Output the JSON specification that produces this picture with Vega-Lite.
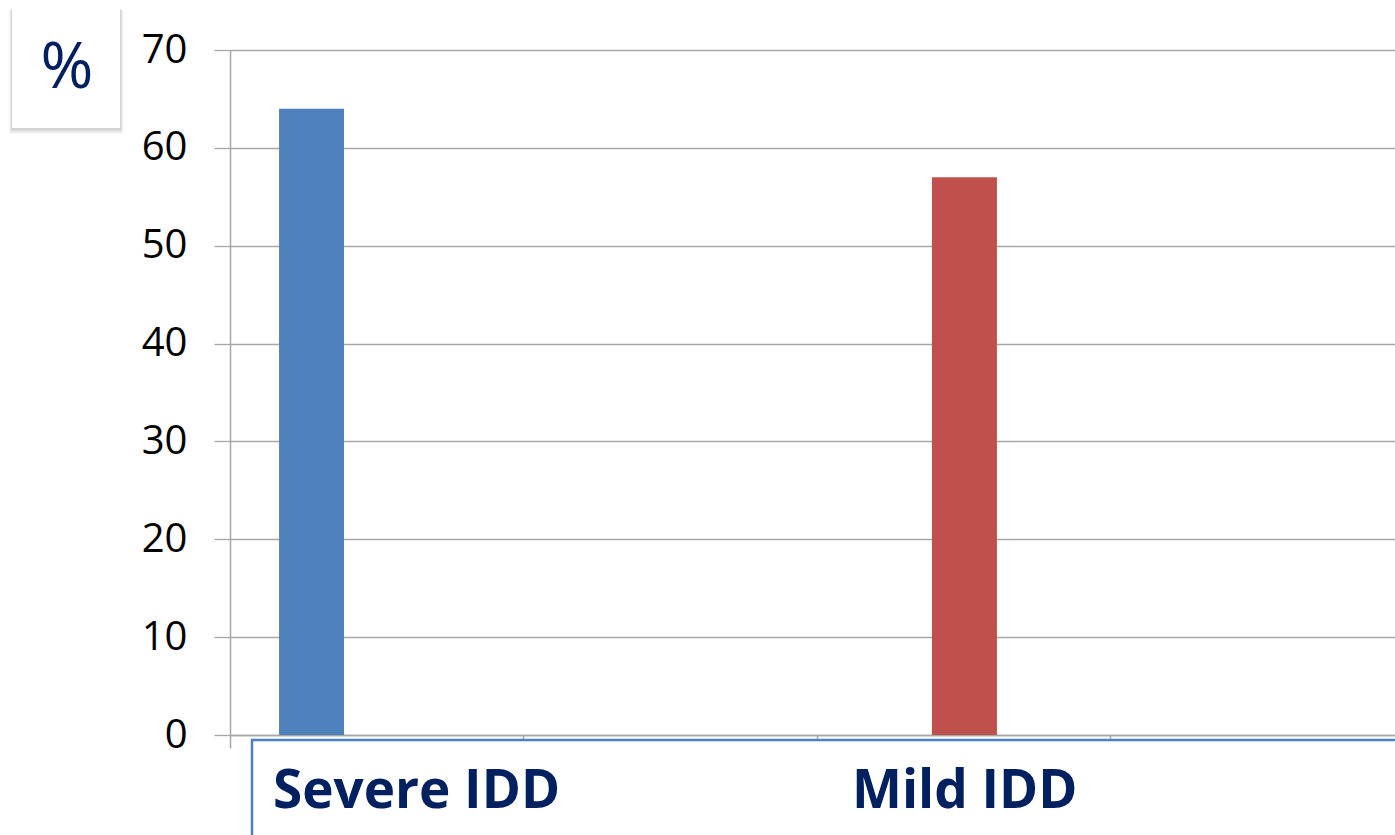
{
  "$schema": "https://vega.github.io/schema/vega-lite/v6.json",
  "width": 1165,
  "height": 685,
  "autosize": "none",
  "padding": {"left": 230, "top": 50, "right": 0, "bottom": 100},
  "background": "white",
  "config": {"view": {"stroke": null}},
  "datasets": {
    "bars": [
      {"group": "Severe IDD", "slot": 0.278, "percent": 64},
      {"group": "Mild IDD", "slot": 2.504, "percent": 57}
    ],
    "labels": [
      {"group": "Severe IDD", "slot": 0.1466},
      {"group": "Mild IDD", "slot": 2.1205}
    ],
    "unit": [{"symbol": "%"}]
  },
  "layer": [
    {
      "data": {"name": "bars"},
      "mark": {"type": "bar", "size": 65},
      "encoding": {
        "x": {
          "field": "slot", "type": "quantitative",
          "scale": {"domain": [0, 3.972], "nice": false, "zero": false, "padding": 0},
          "axis": {
            "values": [0, 1, 2, 3], "labels": false, "title": null, "grid": false,
            "domainColor": "#a6a6a6", "domainWidth": 1.5,
            "tickColor": "#a6a6a6", "tickWidth": 1.5, "tickSize": 13
          }
        },
        "y": {
          "field": "percent", "type": "quantitative",
          "scale": {"domain": [0, 70], "nice": false, "padding": 0},
          "axis": {
            "values": [0, 10, 20, 30, 40, 50, 60, 70], "title": null,
            "grid": true, "gridColor": "#a6a6a6", "gridWidth": 1.3,
            "domainColor": "#a6a6a6", "domainWidth": 1.5,
            "tickColor": "#a6a6a6", "tickWidth": 1.3, "tickSize": 16,
            "labelFont": "Open Sans", "labelFontSize": 40, "labelColor": "#000000",
            "labelPadding": 27
          }
        },
        "color": {
          "field": "group", "type": "nominal",
          "scale": {"domain": ["Severe IDD", "Mild IDD"], "range": ["#4f81bd", "#c0504d"]},
          "legend": null
        }
      }
    },
    {
      "data": {"name": "unit"},
      "mark": {"type": "rect", "fill": "#ffffff", "stroke": "#4f81bd", "strokeWidth": 2.5},
      "encoding": {
        "x": {"datum": 0.075, "type": "quantitative"},
        "x2": {"datum": 4.2},
        "y": {"datum": -0.5, "type": "quantitative"},
        "y2": {"datum": -12}
      }
    },
    {
      "data": {"name": "labels"},
      "mark": {"type": "text", "align": "left", "baseline": "alphabetic", "font": "Open Sans", "fontWeight": "bold", "fontSize": 53, "color": "#002060"},
      "encoding": {
        "x": {"field": "slot", "type": "quantitative"},
        "y": {"datum": -7.46, "type": "quantitative"},
        "text": {"field": "group"}
      }
    },
    {
      "data": {"name": "unit"},
      "mark": {"type": "rect", "fill": "#808080", "opacity": 0.15},
      "encoding": {
        "x": {"datum": -0.752, "type": "quantitative"},
        "x2": {"datum": -0.365},
        "y": {"datum": 74.1, "type": "quantitative"},
        "y2": {"datum": 61.5}
      }
    },
    {
      "data": {"name": "unit"},
      "mark": {"type": "rect", "fill": "#808080", "opacity": 0.22},
      "encoding": {
        "x": {"datum": -0.747, "type": "quantitative"},
        "x2": {"datum": -0.37},
        "y": {"datum": 74.2, "type": "quantitative"},
        "y2": {"datum": 61.75}
      }
    },
    {
      "data": {"name": "unit"},
      "mark": {"type": "rect", "fill": "#ffffff"},
      "encoding": {
        "x": {"datum": -0.743, "type": "quantitative"},
        "x2": {"datum": -0.375},
        "y": {"datum": 74.29, "type": "quantitative"},
        "y2": {"datum": 62.03}
      }
    },
    {
      "data": {"name": "unit"},
      "mark": {"type": "text", "align": "center", "baseline": "middle", "font": "Open Sans", "fontSize": 64, "color": "#002060"},
      "encoding": {
        "x": {"datum": -0.556, "type": "quantitative"},
        "y": {"datum": 68.06, "type": "quantitative"},
        "text": {"field": "symbol"}
      }
    }
  ]
}
